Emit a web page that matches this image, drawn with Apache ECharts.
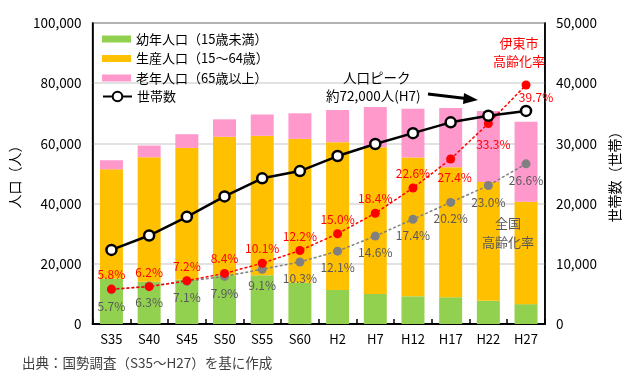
<!DOCTYPE html>
<html>
<head>
<meta charset="utf-8">
<script src="https://cdn.jsdelivr.net/npm/echarts@6/dist/echarts.min.js"></script>
<style>html,body{margin:0;padding:0;background:#fff}#c{width:630px;height:381px}</style>
</head>
<body>
<div id="c"></div>
<script>
const categories = ['S35','S40','S45','S50','S55','S60','H2','H7','H12','H17','H22','H27'];
const youngPop   = [15000, 14000, 14700, 16200, 16200, 13700, 11300, 10000, 9200, 8900, 7700, 6600];
const workingPop = [36400, 41400, 43800, 46000, 46300, 47800, 49100, 48700, 46100, 43200, 39500, 34000];
const elderlyPop = [3000, 3900, 4550, 5800, 7100, 8500, 10700, 13400, 16200, 19700, 23600, 26600];
const households = [12300, 14700, 17800, 21200, 24200, 25400, 27900, 29900, 31700, 33500, 34600, 35400];
const itoRate      = [5.8, 6.2, 7.2, 8.4, 10.1, 12.2, 15.0, 18.4, 22.6, 27.4, 33.3, 39.7];
const nationalRate = [5.7, 6.3, 7.1, 7.9, 9.1, 10.3, 12.1, 14.6, 17.4, 20.2, 23.0, 26.6];
const leftTicks = [0, 20000, 40000, 60000, 80000, 100000];
const rightTicks = [0, 10000, 20000, 30000, 40000, 50000];

const FONT = 'Noto Sans CJK JP';
const chart = echarts.init(document.getElementById('c'), null, {renderer: 'canvas'});
const fmt = v => v.toLocaleString('en-US');

const itoLabelBelow = {9: [4, 4], 10: [5, 6], 11: [10, -2]};
const itoData = itoRate.map((v, i) => {
  if (itoLabelBelow[i]) return {value: v, label: {show: true, position: 'bottom', offset: itoLabelBelow[i]}};
  return v;
});

const option = {
  animation: false,
  textStyle: {fontFamily: FONT},
  grid: {left: 81, right: 81, top: 23, bottom: 57, show: true, borderColor: '#000', borderWidth: 1.5, containLabel: false},
  legend: [{
    data: ['幼年人口（15歳未満）', '生産人口（15～64歳）', '老年人口（65歳以上）'],
    orient: 'vertical', left: 97, top: 27,
    itemWidth: 29, itemHeight: 7, itemGap: 5.5,
    icon: 'rect',
    textStyle: {fontFamily: FONT, fontSize: 13, color: '#000', lineHeight: 14}
  }, {
    data: ['世帯数'],
    orient: 'vertical', left: 97, top: 85,
    itemWidth: 29, itemHeight: 12,
    textStyle: {fontFamily: FONT, fontSize: 13, color: '#000'}
  }],
  xAxis: {
    type: 'category', data: categories,
    axisLine: {lineStyle: {color: '#000', width: 2}},
    axisTick: {show: true, inside: true, length: 5, lineStyle: {color: '#000', width: 1.5}},
    axisLabel: {fontFamily: FONT, fontSize: 13, color: '#000', margin: 9}
  },
  yAxis: [{
    type: 'value', min: 0, max: 100000, interval: 20000,
    name: '人口（人）', nameLocation: 'middle', nameRotate: 90, nameGap: 57,
    nameTextStyle: {fontFamily: FONT, fontSize: 14, color: '#000'},
    axisLine: {show: true, lineStyle: {color: '#000', width: 1.5}},
    axisTick: {show: false},
    axisLabel: {fontFamily: FONT, fontSize: 13.5, color: '#000', margin: 11, formatter: fmt},
    splitLine: {show: true, lineStyle: {color: '#d9d9d9', width: 1.5}}
  }, {
    type: 'value', min: 0, max: 50000, interval: 10000, position: 'right',
    name: '世帯数（世帯）', nameLocation: 'middle', nameRotate: 90, nameGap: 56,
    nameTextStyle: {fontFamily: FONT, fontSize: 14, color: '#000', verticalAlign: 'top'},
    axisLine: {show: true, lineStyle: {color: '#000', width: 1.5}},
    axisTick: {show: false},
    axisLabel: {fontFamily: FONT, fontSize: 13.5, color: '#000', margin: 11, formatter: fmt},
    splitLine: {show: false}
  }, {
    type: 'value', min: 0, max: 50, show: false, splitLine: {show: false}
  }],
  series: [{
    name: '幼年人口（15歳未満）', type: 'bar', stack: 'pop', data: youngPop,
    barWidth: 23, itemStyle: {color: '#92d050'}, z: 1
  }, {
    name: '生産人口（15～64歳）', type: 'bar', stack: 'pop', data: workingPop,
    barWidth: 23, itemStyle: {color: '#ffc000'}, z: 1
  }, {
    name: '老年人口（65歳以上）', type: 'bar', stack: 'pop', data: elderlyPop,
    barWidth: 23, itemStyle: {color: '#ff99cc'}, z: 1
  }, {
    name: '全国高齢化率', type: 'line', yAxisIndex: 2, data: nationalRate,
    symbol: 'circle', symbolSize: 9,
    lineStyle: {color: '#808080', width: 1.5, type: [3, 2]},
    itemStyle: {color: '#808080'},
    label: {show: true, position: 'bottom', distance: 6, formatter: p => p.value.toFixed(1) + '%',
      fontFamily: FONT, fontSize: 12, color: '#595959'},
    z: 3
  }, {
    name: '伊東市高齢化率', type: 'line', yAxisIndex: 2, data: itoData,
    symbol: 'circle', symbolSize: 9,
    lineStyle: {color: '#ff0000', width: 1.5, type: [3, 2]},
    itemStyle: {color: '#ff0000'},
    label: {show: true, position: 'top', distance: 4, formatter: p => p.value.toFixed(1) + '%',
      fontFamily: FONT, fontSize: 12, color: '#ff0000'},
    z: 4
  }, {
    name: '世帯数', type: 'line', yAxisIndex: 1, data: households,
    symbol: 'circle', symbolSize: 10,
    lineStyle: {color: '#000', width: 2.5},
    itemStyle: {color: '#fff', borderColor: '#000', borderWidth: 2.5},
    z: 5
  }],
  graphic: [
    {type: 'text', z: 100, left: 343, top: 71, style: {text: '人口ピーク', font: '13.5px "Noto Sans CJK JP"', fill: '#000'}},
    {type: 'text', z: 100, left: 326, top: 89, style: {text: '約72,000人(H7)', font: '13.5px "Noto Sans CJK JP"', fill: '#000'}},
    {type: 'line', z: 100, shape: {x1: 428, y1: 94, x2: 466, y2: 98.5}, style: {stroke: '#000', lineWidth: 3}},
    {type: 'polygon', z: 100, shape: {points: [[478, 100], [464, 93], [463, 104]]}, style: {fill: '#000'}},
    {type: 'text', z: 100, x: 519, y: 43, style: {text: '伊東市', font: '13px "Noto Sans CJK JP"', fill: '#ff0000', align: 'center', verticalAlign: 'middle'}},
    {type: 'text', z: 100, x: 519, y: 61, style: {text: '高齢化率', font: '13px "Noto Sans CJK JP"', fill: '#ff0000', align: 'center', verticalAlign: 'middle'}},
    {type: 'text', z: 100, x: 508, y: 223, style: {text: '全国', font: '13px "Noto Sans CJK JP"', fill: '#595959', align: 'center', verticalAlign: 'middle'}},
    {type: 'text', z: 100, x: 508, y: 242, style: {text: '高齢化率', font: '13px "Noto Sans CJK JP"', fill: '#595959', align: 'center', verticalAlign: 'middle'}},
    {type: 'text', z: 100, left: 22, top: 356, style: {text: '出典：国勢調査（S35～H27）を基に作成', font: '13.5px "Noto Sans CJK JP"', fill: '#404040'}}
  ]
};
chart.setOption(option);
</script>
</body>
</html>
